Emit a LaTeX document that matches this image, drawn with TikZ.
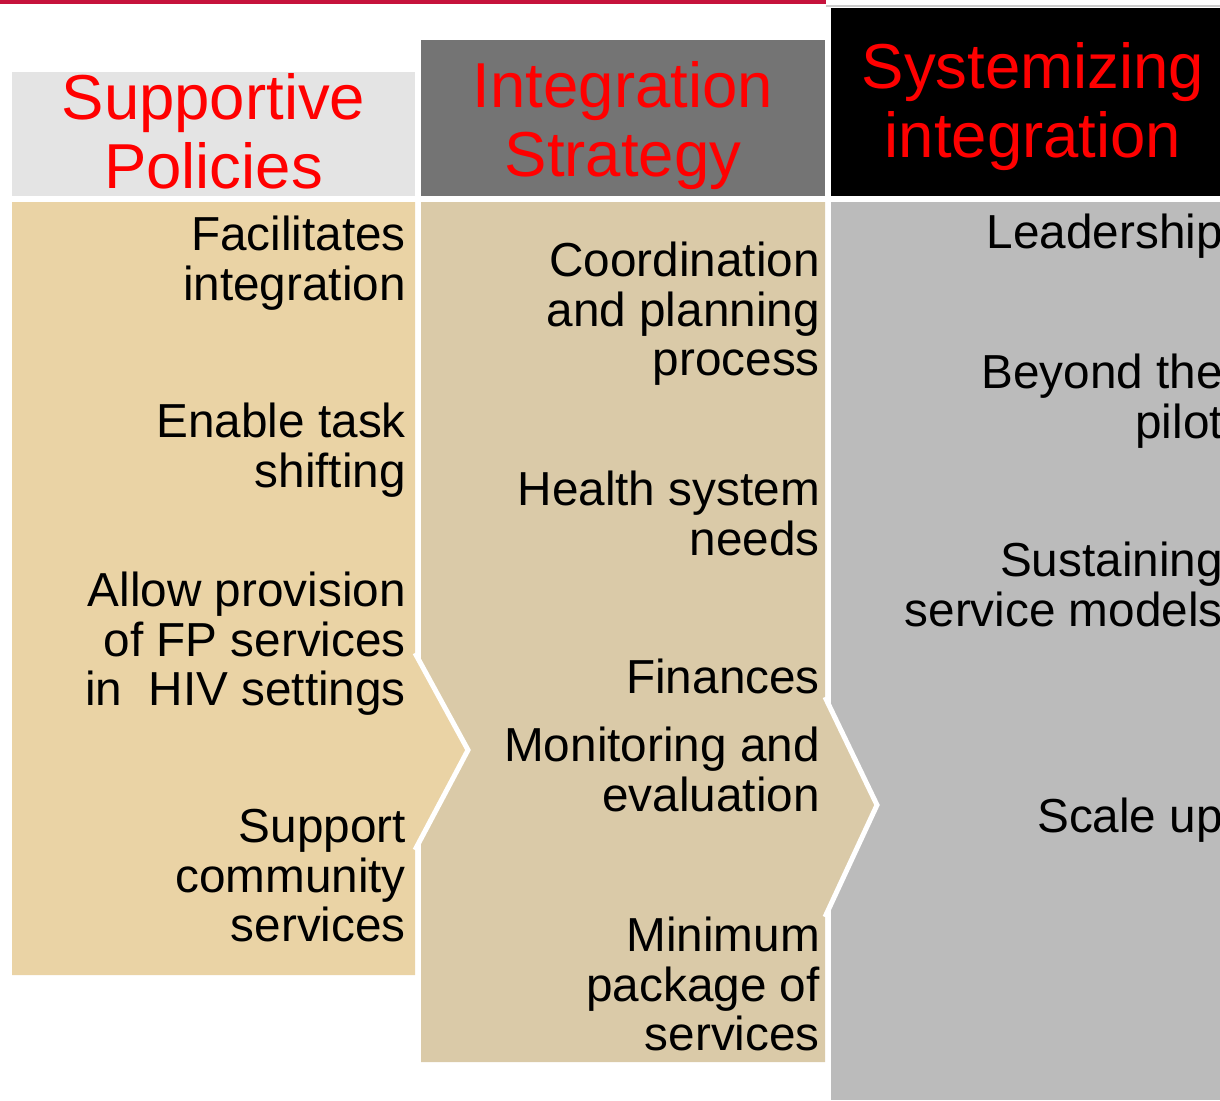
\documentclass[tikz,border=0pt]{standalone}
\usepackage{fontspec}
\setmainfont{Liberation Sans}
\definecolor{topred}{RGB}{198,18,60}
\definecolor{headlight}{RGB}{228,228,228}
\definecolor{headdark}{RGB}{116,116,116}
\definecolor{cola}{RGB}{234,211,165}
\definecolor{colb}{RGB}{218,202,168}
\definecolor{colc}{RGB}{187,187,187}

\begin{document}
\begin{tikzpicture}[x=1pt,y=-1pt,
	head/.style={anchor=north,inner sep=0,align=center,text=red,font=\fontsize{63.5}{69}\selectfont},
	item/.style={anchor=north east,inner sep=0,align=right,font=\fontsize{47.7}{49.5}\selectfont},
	chevron/.style={white,line width=5pt}]
	\useasboundingbox (0,0) rectangle (1220,1100);
	\clip (0,0) rectangle (1220,1100);

	%bandeau du haut
	\fill [topred] (0,0) rectangle (826,4);
	\draw [black!20,line width=1.5pt] (826,6) -- (1220,6);

	%en-tetes
	\fill [headlight] (12,72) rectangle (415,196);
	\fill [headdark] (421,40) rectangle (825,196);
	\fill [black] (831,8) rectangle (1220,196);
	\node [head] (hpol) at (213.5,73) {Supportive\\Policies};
	\node [head] (hstrat) at (623,61) {Integration\\Strategy};
	\node [head] (hsys) at (1033,42) {Systemizing\\integration};

	%colonnes
	\fill [colc] (831,202) rectangle (1220,1100);
	\fill [colb] (421,202) -- (825,202) -- (825,697) -- (877,805) -- (825,917) -- (825,1062) -- (421,1062) -- cycle;
	\draw [chevron] (825,697) -- (877,805) -- (825,917);
	\fill [cola] (12,202) -- (415,202) -- (415,653) -- (468,750) -- (415,850) -- (415,975) -- (12,975) -- cycle;
	\draw [chevron] (415,653) -- (468,750) -- (415,850);
	%fin

	\node [item] (fac) at (406,216) {Facilitates\\integration};
	\node [item] (task) at (406,403) {Enable task\\shifting};
	\node [item] (fp) at (406,572) {Allow provision\\of FP services\\in~~HIV settings};
	\node [item] (comm) at (406,809) {Support\\community\\services};

	\node [item] (coord) at (820,242) {Coordination\\and planning\\process};
	\node [item] (needs) at (820,471) {Health system\\needs};
	\node [item] (fin) at (820,659) {Finances};
	\node [item] (eval) at (820,727) {Monitoring and\\evaluation};
	\node [item] (pkg) at (820,917) {Minimum\\package of\\services};

	\node [item] (lead) at (1223,214) {Leadership};
	\node [item] (pilot) at (1223,354) {Beyond the\\pilot};
	\node [item] (sust) at (1223,542) {Sustaining\\service models};
	\node [item] (scale) at (1223,798) {Scale up};
\end{tikzpicture}
\end{document}
